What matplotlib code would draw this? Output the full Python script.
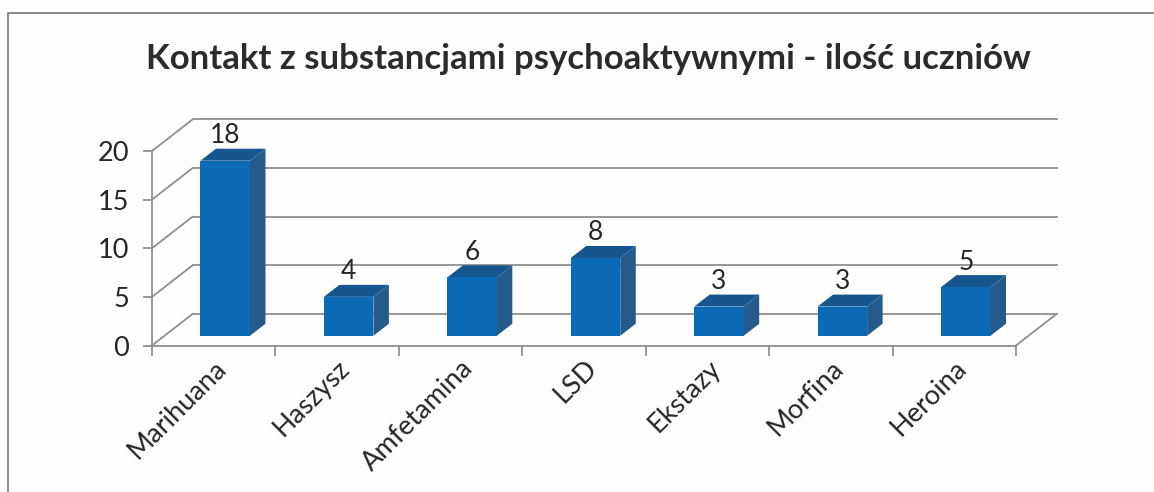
import matplotlib
matplotlib.use('Agg')
import matplotlib.pyplot as plt
from matplotlib.patches import Polygon, Rectangle

plt.rcParams['font.family'] = ['Lato', 'DejaVu Sans']

title = 'Kontakt z substancjami psychoaktywnymi - ilość uczniów'
categories = ['Marihuana', 'Haszysz', 'Amfetamina', 'LSD', 'Ekstazy', 'Morfina', 'Heroina']
values = [18, 4, 6, 8, 3, 3, 5]
y_ticks = [0, 5, 10, 15, 20]

W, H = 1154, 492
GRID = '#8f8f8f'
FRONT = '#0b6ab5'
TOP = '#15568f'
SIDE = '#255a8a'
TEXT = '#262626'

fig = plt.figure(figsize=(W / 100, H / 100), dpi=100, facecolor='#fefefe')
# front plane of the fake 3d box, in pixels of the picture
ax = fig.add_axes([152 / W, (H - 345.5) / H, 864 / W, 194.5 / H])
ax.set_xlim(0, len(categories))
ax.set_ylim(0, 20)
ax.axis('off')

# pixel depths turned into data units
px = len(categories) / 864
py = 20 / 194.5
wall_dx, wall_dy = 40.5 * px, 31.5 * py
bar_dx, bar_dy = 15.5 * px, 12 * py
bar_w = 49.5 * px


def line(xs, ys, lw=1.3):
    ax.plot(xs, ys, color=GRID, lw=lw, clip_on=False, solid_capstyle='projecting', zorder=1)


# walls and grid
for t in y_ticks:
    line([0, wall_dx], [t, t + wall_dy])
    line([wall_dx, len(categories) + wall_dx], [t + wall_dy, t + wall_dy])
    line([-8 * px, 0], [t, t])
line([0, 0], [0, 20])
line([0, len(categories)], [0, 0])
line([len(categories), len(categories) + wall_dx], [0, wall_dy])
for i in range(len(categories) + 1):
    line([i, i], [0, -9 * py])

# bars
for i, v in enumerate(values):
    x0 = i + 0.5 + (wall_dx - bar_dx) / 2 - bar_w / 2 - 1 * px
    x1 = x0 + bar_w
    b = (wall_dy - bar_dy) / 2
    t = b + v
    ax.add_patch(Polygon([(x0, t), (x1, t), (x1 + bar_dx, t + bar_dy), (x0 + bar_dx, t + bar_dy)],
                         color=TOP, lw=0, clip_on=False, zorder=3))
    ax.add_patch(Polygon([(x1, b), (x1 + bar_dx, b + bar_dy), (x1 + bar_dx, t + bar_dy), (x1, t)],
                         color=SIDE, lw=0, clip_on=False, zorder=3))
    ax.add_patch(Rectangle((x0, b), bar_w, v, color=FRONT, lw=0, clip_on=False, zorder=4))
    ax.text(x0 + bar_w / 2, t + bar_dy + 0.05, str(v), ha='center', va='bottom', fontsize=19,
            color=TEXT, zorder=5, clip_on=False)

# tick labels
for t in y_ticks:
    ax.text(-23 * px, t - 2.5 * py, str(t), ha='right', va='center', fontsize=19.5, color=TEXT)
for i, c in enumerate(categories):
    ax.text(i + 0.5, -10 * py, c, rotation=45, rotation_mode='anchor', ha='right', va='top',
            fontsize=19.5, color=TEXT, clip_on=False)

# chart border (only top and left are on the scan) and title
fig.add_artist(plt.Line2D([8 / W, 8 / W, 1], [0, (H - 13) / H, (H - 13) / H],
                          color='#777777', lw=1.2))
fig.text(588 / W, (H - 59) / H, title, ha='center', va='center', fontsize=25, fontweight='bold',
         color='#2b2b2b')

fig.savefig('out.png', dpi=100, facecolor=fig.get_facecolor())
